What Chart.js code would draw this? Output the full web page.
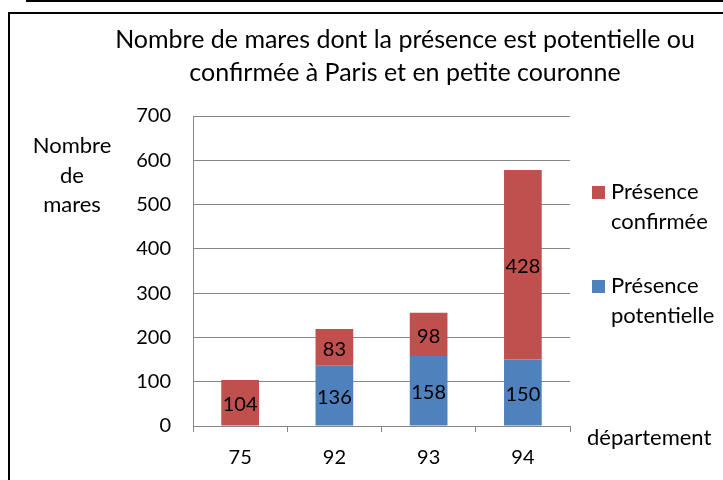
<!DOCTYPE html>
<html>
<head>
<meta charset="utf-8">
<script src="https://cdn.jsdelivr.net/npm/chart.js@4"></script>
<style>
  body { margin: 0; background: #fff; overflow: hidden; }
  #topline { position: absolute; left: 26px; top: 0; width: 720px; height: 2px; background: #000; }
  #frame { position: absolute; left: 8px; top: 12px; width: 800px; height: 600px; border-left: 2px solid #000; border-top: 2px solid #000; }
  #wrap { position: absolute; left: 0; top: 0; width: 723px; height: 480px; }
</style>
</head>
<body>
<div id="topline"></div>
<div id="frame"></div>
<div id="wrap"><canvas id="myChart" width="723" height="480"></canvas></div>
<script>
// departements
var departements = ["75", "92", "93", "94"];
var potentielle = [0, 136, 158, 150];
var confirmee = [104, 83, 98, 428];
var titre = ["Nombre de mares dont la présence est potentielle ou", "confirmée à Paris et en petite couronne"];
var titreY = ["Nombre", "de", "mares"];
var titreX = "département";

var police = "Lato";

// valeurs dans les barres
var etiquettes = {
    id: "etiquettes",
    afterDatasetsDraw: function(chart) {
        var ctx = chart.ctx;
        ctx.save();
        ctx.font = "20px " + police;
        ctx.fillStyle = "#000";
        ctx.textAlign = "center";
        ctx.textBaseline = "middle";
        chart.data.datasets.forEach(function(ds, i) {
            var meta = chart.getDatasetMeta(i);
            meta.data.forEach(function(bar, j) {
                var v = ds.data[j];
                if (!v) return;
                ctx.fillText(String(v), bar.x, (bar.y + bar.base) / 2 + 2);
            });
        });
        ctx.restore();
    }
};

// titre, titres des axes + legende
var decor = {
    id: "decor",
    afterDraw: function(chart) {
        var ctx = chart.ctx;
        var area = chart.chartArea;
        ctx.save();
        ctx.fillStyle = "#000";
        ctx.textBaseline = "middle";
        ctx.textAlign = "center";
        ctx.font = "25px " + police;
        for (var t = 0; t < titre.length; t++) {
            ctx.fillText(titre[t], 405, 39.5 + t * 33);
        }
        ctx.font = "22px " + police;
        for (var i = 0; i < titreY.length; i++) {
            ctx.fillText(titreY[i], 72, 146 + i * 29.5);
        }
        ctx.textAlign = "left";
        ctx.fillText(titreX, area.right + 17, 438);

        // legende, ordre inverse
        var ds = chart.data.datasets.slice().reverse();
        var y0 = 192;
        ds.forEach(function(d, k) {
            var y = y0 + k * 94;
            ctx.fillStyle = d.backgroundColor;
            ctx.fillRect(area.right + 22, y - 6, 13, 13);
            ctx.fillStyle = "#000";
            var mots = d.label.split(" ");
            for (var m = 0; m < mots.length; m++) {
                ctx.fillText(mots[m], area.right + 41, y + m * 29.5);
            }
        });
        ctx.restore();
    }
};

var ctx = document.getElementById("myChart").getContext("2d");
var chart = new Chart(ctx, {
    type: "bar",
    data: {
        labels: departements,
        datasets: [{
            label: "Présence potentielle",
            data: potentielle,
            backgroundColor: "#4F81BD"
        }, {
            label: "Présence confirmée",
            data: confirmee,
            backgroundColor: "#C0504D"
        }]
    },
    options: {
        responsive: false,
        animation: false,
        layout: { padding: { left: 88, right: 153, top: 116, bottom: 0 } },
        datasets: { bar: { categoryPercentage: 1.0, barPercentage: 0.4 } },
        plugins: {
            legend: { display: false },
            tooltip: { enabled: false },
            title: { display: false }
        },
        scales: {
            x: {
                stacked: true,
                grid: { offset: true, drawOnChartArea: false, drawTicks: true, tickLength: 6, color: "#868686" },
                border: { color: "#868686" },
                ticks: { color: "#000", font: { family: police, size: 20 }, padding: 14, maxRotation: 0 },
                afterFit: function(s) { s.height = 54; }
            },
            y: {
                stacked: true,
                min: 0,
                max: 700,
                ticks: { stepSize: 100, color: "#000", font: { family: police, size: 20 }, padding: 22 },
                grid: { drawTicks: false, color: "#868686" },
                border: { color: "#868686" },
                afterFit: function(s) { s.width = 105; }
            }
        }
    },
    plugins: [etiquettes, decor]
});
</script>
</body>
</html>
